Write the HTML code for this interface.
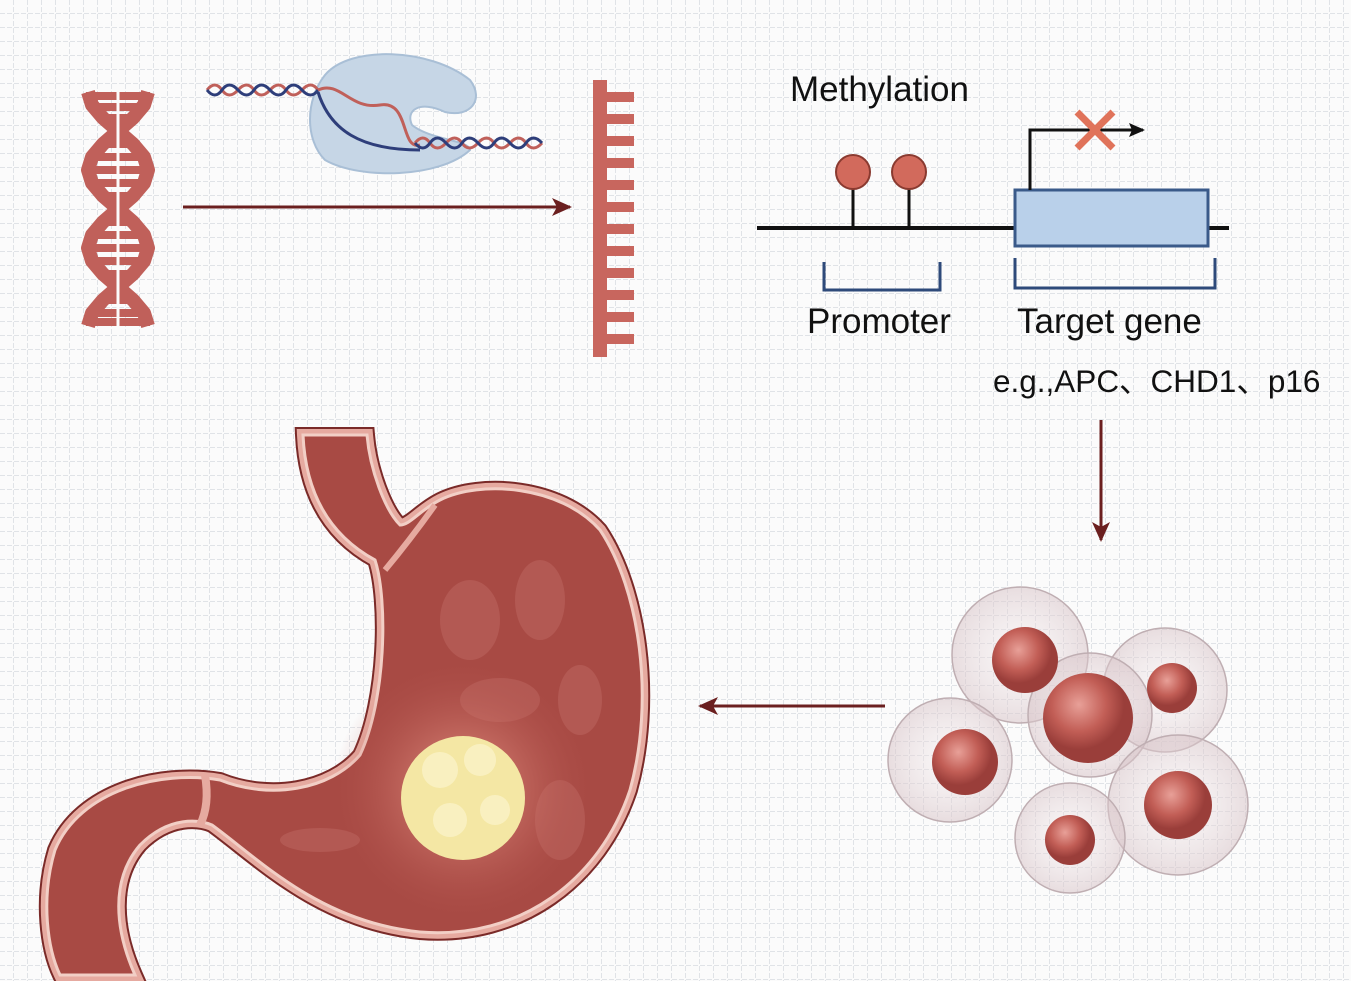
<!DOCTYPE html>
<html><head><meta charset="utf-8"><style>
html,body{margin:0;padding:0;background:#fbfbfb}
svg{display:block}
text{font-family:"Liberation Sans","Noto Sans CJK SC",sans-serif;fill:#111}
</style></head><body>
<svg width="1351" height="981" viewBox="0 0 1351 981" xmlns="http://www.w3.org/2000/svg">
<defs>
<pattern id="g" width="14" height="14" patternUnits="userSpaceOnUse">
<path d="M14 0V14M0 14H14" stroke="#c6cbd3" stroke-width="1" stroke-dasharray="5 2" fill="none"/>
</pattern>
<radialGradient id="glow"><stop offset="0" stop-color="#f0a090" stop-opacity=".9"/><stop offset="1" stop-color="#b0504a" stop-opacity="0"/></radialGradient>
<radialGradient id="nuc" cx=".4" cy=".35"><stop offset="0" stop-color="#e8a098"/><stop offset=".6" stop-color="#c25e56"/><stop offset="1" stop-color="#9a3e3a"/></radialGradient>
<radialGradient id="cell" cx=".5" cy=".5"><stop offset="0" stop-color="#f6eef0" stop-opacity=".3"/><stop offset="1" stop-color="#d8c4c8" stop-opacity=".55"/></radialGradient>
<marker id="ah" markerWidth="20" markerHeight="18" refX="18" refY="9" orient="auto" markerUnits="userSpaceOnUse"><path d="M0,0 L20,9 L0,18 L5,9Z" fill="#6b1f1f"/></marker>
<marker id="ak" markerWidth="16" markerHeight="14" refX="14" refY="7" orient="auto" markerUnits="userSpaceOnUse"><path d="M0,0 L16,7 L0,14 L3,7Z" fill="#111"/></marker>
</defs>
<rect width="1351" height="981" fill="#fbfbfb"/>
<rect width="1351" height="981" fill="url(#g)"/>

<!-- DNA helix -->
<g stroke="#c0605a" fill="none" stroke-linejoin="round">
<polyline stroke-width="14" points="148,92 144,105 133,118 118,131 103,144 92,157 88,170 92,183 103,196 118,209 133,222 144,235 148,248 144,261 133,274 118,287 103,300 92,313 88,326"/>
<polyline stroke-width="14" points="88,92 92,105 103,118 118,131 133,144 144,157 148,170 144,183 133,196 118,209 103,222 92,235 88,248 92,261 103,274 118,287 133,300 144,313 148,326"/>
<g stroke-width="8">
<line x1="86" y1="96" x2="150" y2="96"/><line x1="92" y1="107" x2="144" y2="107"/><line x1="103" y1="118" x2="133" y2="118"/>
<line x1="103" y1="144" x2="133" y2="144"/><line x1="92" y1="157" x2="144" y2="157"/><line x1="86" y1="170" x2="150" y2="170"/>
<line x1="92" y1="183" x2="144" y2="183"/><line x1="103" y1="196" x2="133" y2="196"/>
<line x1="103" y1="222" x2="133" y2="222"/><line x1="92" y1="235" x2="144" y2="235"/><line x1="86" y1="248" x2="150" y2="248"/>
<line x1="92" y1="261" x2="144" y2="261"/><line x1="103" y1="274" x2="133" y2="274"/>
<line x1="103" y1="300" x2="133" y2="300"/><line x1="92" y1="313" x2="144" y2="313"/><line x1="86" y1="322" x2="150" y2="322"/>
</g>
</g>
<rect x="116.5" y="92" width="3" height="235" fill="#fbfbfb"/>

<!-- ribosome and strands -->
<path d="M325,75 C350,45 430,48 470,80 C485,100 470,118 445,112 C420,100 405,110 412,125 C430,140 470,140 470,150 C440,178 360,180 325,160 C305,140 305,100 325,75Z" fill="#c6d6e6" stroke="#a9bfd6" stroke-width="2"/>
<path d="M207,90 Q215,80 222,90 T238,90 T254,90 T270,90 T286,90 T302,90 T318,90" stroke="#c0605a" stroke-width="3" fill="none"/>
<path d="M207,90 Q215,100 222,90 T238,90 T254,90 T270,90 T286,90 T302,90 T318,90" stroke="#2e3e7a" stroke-width="3" fill="none"/>
<path d="M318,90 C340,80 350,110 380,105 C410,100 400,150 420,145" stroke="#c0605a" stroke-width="3" fill="none"/>
<path d="M318,92 C330,130 360,150 420,150" stroke="#2e3e7a" stroke-width="3" fill="none"/>
<path d="M415,143 Q423,133 430,143 T446,143 T462,143 T478,143 T494,143 T510,143 T526,143 T542,143" stroke="#c0605a" stroke-width="3" fill="none"/>
<path d="M415,143 Q423,153 430,143 T446,143 T462,143 T478,143 T494,143 T510,143 T526,143 T542,143" stroke="#2e3e7a" stroke-width="3" fill="none"/>

<line x1="183" y1="207" x2="570" y2="207" stroke="#6b1f1f" stroke-width="3" marker-end="url(#ah)"/>

<!-- mRNA ladder -->
<g fill="#c8665e">
<rect x="593" y="80" width="14" height="277"/>
<rect x="607" y="92" width="27" height="10"/><rect x="607" y="114" width="27" height="10"/>
<rect x="607" y="136" width="27" height="10"/><rect x="607" y="158" width="27" height="10"/>
<rect x="607" y="180" width="27" height="10"/><rect x="607" y="202" width="27" height="10"/>
<rect x="607" y="224" width="27" height="10"/><rect x="607" y="246" width="27" height="10"/>
<rect x="607" y="268" width="27" height="10"/><rect x="607" y="290" width="27" height="10"/>
<rect x="607" y="312" width="27" height="10"/><rect x="607" y="334" width="27" height="10"/>
</g>

<!-- methylation -->
<text x="790" y="101" font-size="35">Methylation</text>
<line x1="757" y1="228" x2="1229" y2="228" stroke="#111" stroke-width="4"/>
<line x1="853" y1="180" x2="853" y2="228" stroke="#111" stroke-width="3"/>
<line x1="909" y1="180" x2="909" y2="228" stroke="#111" stroke-width="3"/>
<circle cx="853" cy="172" r="17" fill="#d26a5c" stroke="#8a3a30" stroke-width="2"/>
<circle cx="909" cy="172" r="17" fill="#d26a5c" stroke="#8a3a30" stroke-width="2"/>
<rect x="1015" y="190" width="193" height="56" fill="#b9d0ea" stroke="#3a5a8a" stroke-width="3"/>
<path d="M1030,190 V130 H1143" stroke="#111" stroke-width="3" fill="none" marker-end="url(#ak)"/>
<path d="M1077,112 L1113,148 M1113,112 L1077,148" stroke="#e0735a" stroke-width="7"/>
<path d="M824,262 V290 H940 V262" stroke="#2e4a7a" stroke-width="3" fill="none"/>
<path d="M1015,258 V288 H1215 V258" stroke="#2e4a7a" stroke-width="3" fill="none"/>
<text x="807" y="333" font-size="35">Promoter</text>
<text x="1017" y="333" font-size="35">Target gene</text>
<text x="993" y="392" font-size="31.5">e.g.,APC、CHD1、p16</text>

<line x1="1101" y1="420" x2="1101" y2="540" stroke="#6b1f1f" stroke-width="3" marker-end="url(#ah)"/>
<line x1="885" y1="706" x2="700" y2="706" stroke="#6b1f1f" stroke-width="3" marker-end="url(#ah)"/>

<!-- stomach -->
<path d="M303,435 C305,480 320,530 375,560 C388,600 386,700 360,755 C330,790 270,800 220,780 C160,770 80,790 55,850 C40,900 48,950 60,975 L135,975 C115,930 110,880 140,845 C170,815 200,820 212,825 C260,860 320,922 420,932 C520,940 600,880 630,790 C655,700 640,590 600,530 C560,485 480,480 440,500 C420,510 410,525 400,525 C385,510 370,470 367,435 Z" fill="#a84a44" stroke="#7a2a28" stroke-width="16"/>
<path d="M303,435 C305,480 320,530 375,560 C388,600 386,700 360,755 C330,790 270,800 220,780 C160,770 80,790 55,850 C40,900 48,950 60,975 L135,975 C115,930 110,880 140,845 C170,815 200,820 212,825 C260,860 320,922 420,932 C520,940 600,880 630,790 C655,700 640,590 600,530 C560,485 480,480 440,500 C420,510 410,525 400,525 C385,510 370,470 367,435 Z" fill="#a84a44" stroke="#e6aaa0" stroke-width="12"/>
<path d="M303,435 C305,480 320,530 375,560 C388,600 386,700 360,755 C330,790 270,800 220,780 C160,770 80,790 55,850 C40,900 48,950 60,975 L135,975 C115,930 110,880 140,845 C170,815 200,820 212,825 C260,860 320,922 420,932 C520,940 600,880 630,790 C655,700 640,590 600,530 C560,485 480,480 440,500 C420,510 410,525 400,525 C385,510 370,470 367,435 Z" fill="#a84a44" stroke="#f2cfc6" stroke-width="3"/>
<path d="M205,775 Q210,805 200,825" stroke="#e6aaa0" stroke-width="8" fill="none"/>
<path d="M385,570 Q410,540 435,505" stroke="#e6aaa0" stroke-width="6" fill="none"/>
<g fill="#b8605a" opacity=".7">
<ellipse cx="470" cy="620" rx="30" ry="40"/><ellipse cx="540" cy="600" rx="25" ry="40"/>
<ellipse cx="500" cy="700" rx="40" ry="22"/><ellipse cx="580" cy="700" rx="22" ry="35"/>
<ellipse cx="320" cy="840" rx="40" ry="12"/><ellipse cx="560" cy="820" rx="25" ry="40"/>
</g>
<circle cx="463" cy="790" r="130" fill="url(#glow)"/>
<circle cx="463" cy="798" r="62" fill="#f4e7a4"/>
<g fill="#fbf3c8" opacity=".8"><circle cx="440" cy="770" r="18"/><circle cx="480" cy="760" r="16"/><circle cx="450" cy="820" r="17"/><circle cx="495" cy="810" r="15"/></g>

<!-- cells -->
<g stroke="#bfaeb2" stroke-width="1.5" fill="url(#cell)">
<circle cx="1020" cy="655" r="68"/>
<circle cx="1165" cy="690" r="62"/>
<circle cx="950" cy="760" r="62"/>
<circle cx="1090" cy="715" r="62"/>
<circle cx="1178" cy="805" r="70"/>
<circle cx="1070" cy="838" r="55"/>
</g>
<circle cx="1025" cy="660" r="33" fill="url(#nuc)"/>
<circle cx="1088" cy="718" r="45" fill="url(#nuc)"/>
<circle cx="1172" cy="688" r="25" fill="url(#nuc)"/>
<circle cx="965" cy="762" r="33" fill="url(#nuc)"/>
<circle cx="1178" cy="805" r="34" fill="url(#nuc)"/>
<circle cx="1070" cy="840" r="25" fill="url(#nuc)"/>
</svg>
</body></html>
